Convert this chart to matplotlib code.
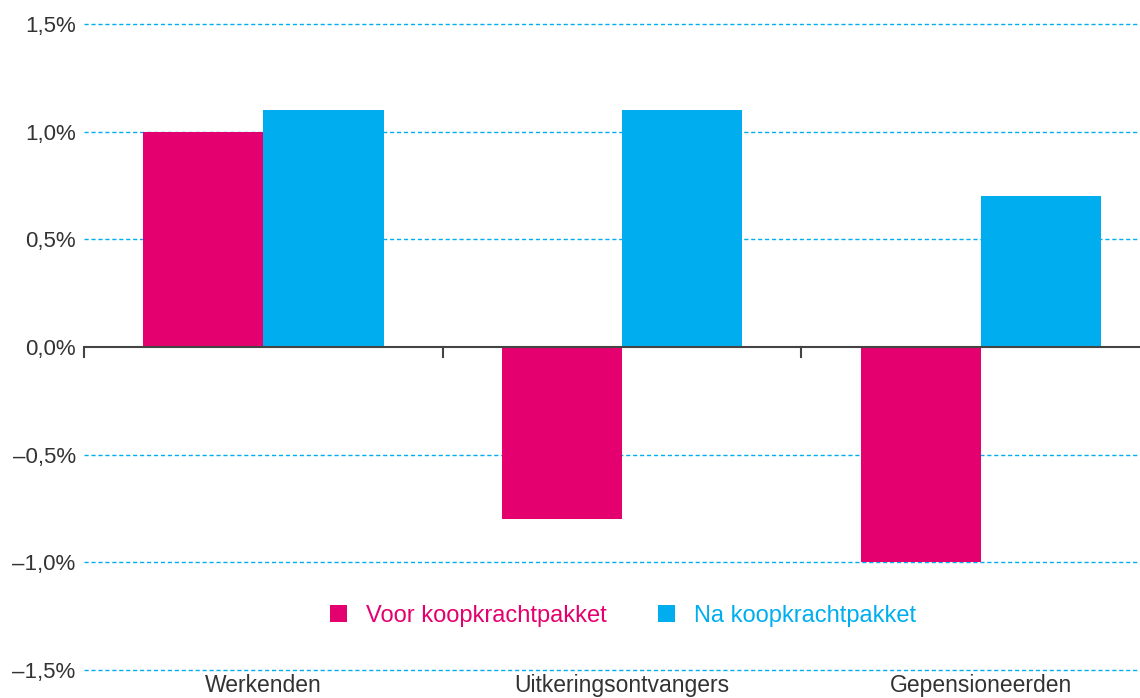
import matplotlib
matplotlib.use("Agg")
import matplotlib.pyplot as plt
import numpy as np

# data
categories = ["Werkenden", "Uitkeringsontvangers", "Gepensioneerden"]
voor = [1.0, -0.8, -1.0]
na = [1.1, 1.1, 0.7]
series_labels = ["Voor koopkrachtpakket", "Na koopkrachtpakket"]
yticks = [-1.5, -1.0, -0.5, 0.0, 0.5, 1.0, 1.5]

PINK = "#E4006E"
BLUE = "#00AEEF"
TEXT = "#333333"

plt.rcParams["font.family"] = ["Liberation Sans", "DejaVu Sans"]

fig = plt.figure(figsize=(11.4, 6.98), dpi=100)
# axes runs a bit past the right edge of the figure, like the original
ax = fig.add_axes([0.0737, 0.0401, 0.944, 0.9255])

x = np.arange(len(categories))
w = 0.335
b1 = ax.bar(x - w / 2, voor, w, color=PINK, zorder=3)
b2 = ax.bar(x + w / 2, na, w, color=BLUE, zorder=3)

ax.set_xlim(-0.5, len(categories) - 0.5)
ax.set_ylim(-1.5, 1.5)

# dashed gridlines
for y in yticks:
    if y != 0:
        ax.axhline(y, color=BLUE, lw=1.0, ls=(0, (3, 2)), zorder=1, clip_on=False)

# zero line with separators
ax.axhline(0, color="#444444", lw=1.5, zorder=4)
for xs in np.arange(-0.5, len(categories) - 0.5, 1.0):
    ax.plot([xs, xs], [0, -0.045], color="#444444", lw=1.5, zorder=4, clip_on=False)

for s in ax.spines.values():
    s.set_visible(False)
ax.set_xticks([])
ax.set_yticks(yticks)
ax.set_yticklabels([("%.1f%%" % v).replace(".", ",").replace("-", "\u2013") for v in yticks],
                   fontsize=16, color=TEXT)
ax.tick_params(axis="y", length=0, pad=6)

for i, c in enumerate(categories):
    ax.text(i, -1.52, c, ha="center", va="top", fontsize=16.5, color=TEXT)

leg = ax.legend([b1, b2], series_labels, ncol=2, frameon=False,
                loc="center", bbox_to_anchor=(0.501, 0.0836),
                fontsize=17, handlelength=0.7, handleheight=0.7,
                columnspacing=2.2, handletextpad=0.8)
for t, col in zip(leg.get_texts(), [PINK, BLUE]):
    t.set_color(col)

fig.savefig("out.png", dpi=100)
